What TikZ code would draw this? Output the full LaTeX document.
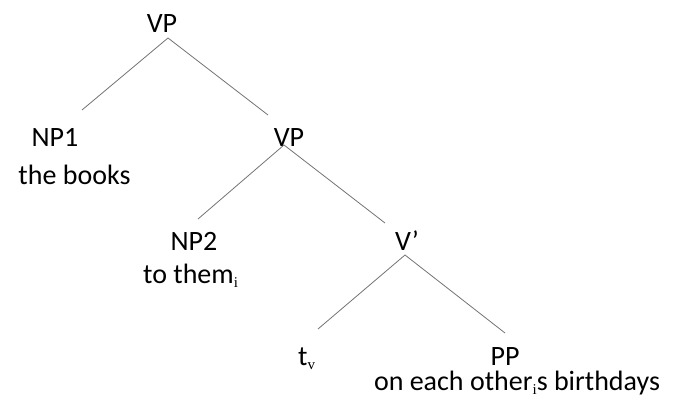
\documentclass[tikz,border=0pt]{standalone}
\usepackage{fontspec}
\setmainfont{Carlito}
\newfontfamily\subfont{Liberation Serif}
\newcommand{\sbs}[1]{\raisebox{-4pt}{\subfont\fontsize{15}{15}\selectfont #1}}
\begin{document}
\begin{tikzpicture}[x=1pt,y=-1pt,
  lbl/.style={anchor=base,inner sep=0pt,font=\fontsize{28}{34}\selectfont},
  edge/.style={draw=black!55,line width=0.8pt}]
\useasboundingbox (0,0) rectangle (675,403);
% labels
\node[lbl] (vp1) at (162,33) {VP};
\node[lbl] (np1) at (55,147) {NP1};
\node[lbl] (np1w) at (74.5,185) {the books};
\node[lbl] (vp2) at (289,147) {VP};
\node[lbl] (np2) at (194,251) {NP2};
\node[lbl,anchor=base west] (np2w) at (143,284) {to them\sbs{i}};
\node[lbl] (vbar) at (407,251) {V’};
\node[lbl,anchor=base west] (tv) at (298,366) {t\sbs{v}};
\node[lbl] (pp) at (505,366) {PP};
\node[lbl] (ppw) at (517,391) {on each other\sbs{i}s birthdays};
% branch points
\coordinate (vp1b) at (168,38);
\coordinate (np1t) at (82,110);
\coordinate (vp2t) at (268,115);
\coordinate (vp2b) at (284,145);
\coordinate (np2t) at (198,219);
\coordinate (vbart) at (385,223);
\coordinate (vbarb) at (405,255);
\coordinate (tvt) at (318,329);
\coordinate (ppt) at (505,333);
\draw[edge] (np1t) -- (vp1b) -- (vp2t);
\draw[edge] (np2t) -- (vp2b) -- (vbart);
\draw[edge] (tvt) -- (vbarb) -- (ppt);
\end{tikzpicture}
\end{document}
